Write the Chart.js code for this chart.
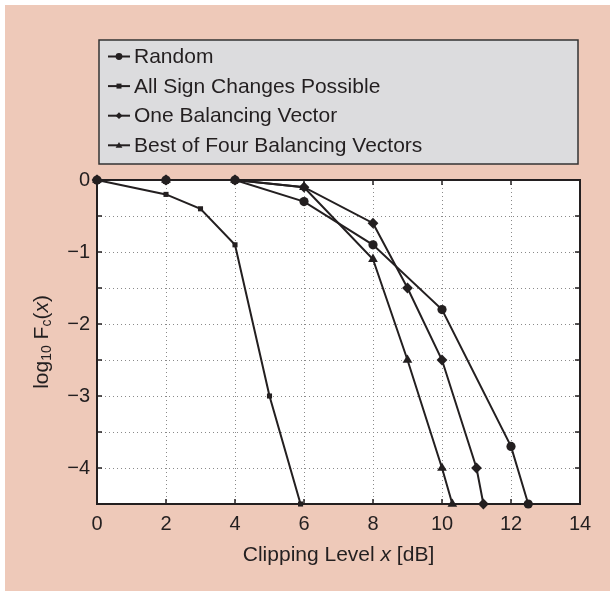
<!DOCTYPE html>
<html>
<head>
<meta charset="utf-8">
<script src="https://cdn.jsdelivr.net/npm/chart.js@4.4.1/dist/chart.umd.min.js"></script>
<style>
  html, body { margin: 0; padding: 0; background: #fff; }
  #wrap { width: 615px; height: 598px; }
</style>
</head>
<body>
<div id="wrap"><canvas id="clipChart" width="615" height="598"></canvas></div>
<script>
// clipping level (dB) and log10 of the clipping probability for each scheme
const seriesNames = ['Random', 'All Sign Changes Possible', 'One Balancing Vector', 'Best of Four Balancing Vectors'];
const xRandom = [0, 2, 4, 6, 8, 10, 12, 12.5];
const yRandom = [0, 0, 0, -0.3, -0.9, -1.8, -3.7, -4.5];
const xSign = [0, 2, 3, 4, 5, 5.9];
const ySign = [0, -0.2, -0.4, -0.9, -3, -4.5];
const xOne = [0, 2, 4, 6, 8, 9, 10, 11, 11.2];
const yOne = [0, 0, 0, -0.1, -0.6, -1.5, -2.5, -4, -4.5];
const xBest = [0, 2, 4, 6, 8, 9, 10, 10.3];
const yBest = [0, 0, 0, -0.1, -1.1, -2.5, -4, -4.5];
const xTicks = [0, 2, 4, 6, 8, 10, 12, 14];
const yTicks = [0, -1, -2, -3, -4];

const INK = '#231f20';
const FONT = '"Liberation Sans", Arial, Helvetica, sans-serif';

const toPoints = (xs, ys) => xs.map((x, i) => ({ x: x, y: ys[i] }));

const markerStyles = [
    { style: 'circle', radius: 4.6 },
    { style: 'rect', radius: 3.6 },
    { style: 'rectRot', radius: 5.4 },
    { style: 'triangle', radius: 5.6 }
];

const makeSet = (i, xs, ys) => ({
    label: seriesNames[i],
    data: toPoints(xs, ys),
    showLine: true,
    borderColor: INK,
    backgroundColor: INK,
    borderWidth: 2,
    pointStyle: markerStyles[i].style,
    pointRadius: markerStyles[i].radius,
    pointBorderWidth: 0,
    pointBackgroundColor: INK,
    clip: false
});

// small marker for the legend box
function drawMarker(ctx, style, x, y, r) {
    ctx.beginPath();
    if (style === 'circle') {
        ctx.arc(x, y, r, 0, Math.PI * 2);
    } else if (style === 'rect') {
        ctx.rect(x - r, y - r, 2 * r, 2 * r);
    } else if (style === 'rectRot') {
        ctx.moveTo(x, y - r); ctx.lineTo(x + r, y); ctx.lineTo(x, y + r); ctx.lineTo(x - r, y);
        ctx.closePath();
    } else {
        ctx.moveTo(x, y - r); ctx.lineTo(x + r, y + r * 0.7); ctx.lineTo(x - r, y + r * 0.7);
        ctx.closePath();
    }
    ctx.fill();
}

// draws a list of text runs ({t, size, dy, italic}) starting at x
function runsWidth(ctx, runs) {
    let w = 0;
    runs.forEach(r => {
        ctx.font = (r.italic ? 'italic ' : '') + r.size + 'px ' + FONT;
        w += ctx.measureText(r.t).width;
    });
    return w;
}
function drawRuns(ctx, runs, x, y) {
    runs.forEach(r => {
        ctx.font = (r.italic ? 'italic ' : '') + r.size + 'px ' + FONT;
        ctx.fillText(r.t, x, y + (r.dy || 0));
        x += ctx.measureText(r.t).width;
    });
}

const framePlugin = {
    id: 'frame',
    beforeDraw(chart) {
        const ctx = chart.ctx;
        const a = chart.chartArea;
        ctx.save();
        ctx.fillStyle = '#eec9b9';
        ctx.fillRect(5, 5, 605, 586);
        ctx.fillStyle = '#ffffff';
        ctx.fillRect(a.left, a.top, a.right - a.left, a.bottom - a.top);
        ctx.restore();
    },
    beforeDatasetsDraw(chart) {
        const ctx = chart.ctx;
        const a = chart.chartArea;
        const xs = chart.scales.x;
        const ys = chart.scales.y;
        ctx.save();
        ctx.strokeStyle = INK;
        ctx.lineWidth = 1.5;
        // inward tick marks on all four sides
        ctx.beginPath();
        for (let v = 2; v < 14; v += 2) {
            const px = xs.getPixelForValue(v);
            ctx.moveTo(px, a.bottom); ctx.lineTo(px, a.bottom - 5);
            ctx.moveTo(px, a.top); ctx.lineTo(px, a.top + 5);
        }
        for (let v = -4; v < 0; v += 0.5) {
            const py = ys.getPixelForValue(v);
            ctx.moveTo(a.left, py); ctx.lineTo(a.left + 5, py);
            ctx.moveTo(a.right, py); ctx.lineTo(a.right - 5, py);
        }
        ctx.stroke();
        ctx.lineWidth = 2;
        ctx.strokeRect(a.left, a.top, a.right - a.left, a.bottom - a.top);
        ctx.restore();
    },
    afterDraw(chart) {
        const ctx = chart.ctx;
        const a = chart.chartArea;
        ctx.save();
        ctx.fillStyle = INK;
        ctx.textBaseline = 'middle';

        // x axis title
        const xRuns = [
            { t: 'Clipping Level ', size: 21 },
            { t: 'x', size: 21, italic: true },
            { t: ' [dB]', size: 21 }
        ];
        const xw = runsWidth(ctx, xRuns);
        drawRuns(ctx, xRuns, (a.left + a.right) / 2 - xw / 2, 555);

        // y axis title, rotated
        const yRuns = [
            { t: 'log', size: 21 },
            { t: '10', size: 14, dy: 5 },
            { t: ' F', size: 21 },
            { t: 'c', size: 14, dy: 5 },
            { t: '(', size: 21 },
            { t: 'x', size: 21, italic: true },
            { t: ')', size: 21 }
        ];
        ctx.translate(42, (a.top + a.bottom) / 2);
        ctx.rotate(-Math.PI / 2);
        const yw = runsWidth(ctx, yRuns);
        drawRuns(ctx, yRuns, -yw / 2, 0);
        ctx.restore();

        // legend box
        ctx.save();
        ctx.fillStyle = '#dcdcde';
        ctx.fillRect(99, 40, 479, 124);
        ctx.strokeStyle = '#333333';
        ctx.lineWidth = 1.5;
        ctx.strokeRect(99, 40, 479, 124);
        ctx.font = '21px ' + FONT;
        ctx.textBaseline = 'middle';
        chart.data.datasets.forEach((ds, i) => {
            const y = 56.5 + i * 29.6;
            ctx.strokeStyle = INK;
            ctx.lineWidth = 2;
            ctx.beginPath();
            ctx.moveTo(108, y); ctx.lineTo(130, y);
            ctx.stroke();
            ctx.fillStyle = INK;
            const m = markerStyles[i];
            drawMarker(ctx, m.style, 119, y, m.style === 'rect' ? 2.5 : 3.4);
            ctx.fillText(ds.label, 134, y + 1);
        });
        ctx.restore();
    }
};

new Chart(document.getElementById('clipChart'), {
    type: 'scatter',
    data: {
        datasets: [
            makeSet(0, xRandom, yRandom),
            makeSet(1, xSign, ySign),
            makeSet(2, xOne, yOne),
            makeSet(3, xBest, yBest)
        ]
    },
    options: {
        responsive: false,
        animation: false,
        devicePixelRatio: 1,
        layout: { padding: { top: 180, right: 35, left: 0, bottom: 0 } },
        plugins: {
            legend: { display: false },
            tooltip: { enabled: false }
        },
        scales: {
            x: {
                type: 'linear',
                min: 0,
                max: 14,
                afterFit: scale => { scale.height = 94; },
                afterBuildTicks: scale => { scale.ticks = xTicks.map(v => ({ value: v })); },
                ticks: {
                    color: INK,
                    font: { family: FONT, size: 20 },
                    padding: 8,
                    callback: v => String(v)
                },
                grid: { color: '#8a8a8a', lineWidth: 1, drawTicks: false },
                border: { display: false, dash: [1, 3] }
            },
            y: {
                type: 'linear',
                min: -4.5,
                max: 0,
                afterFit: scale => { scale.width = 97; },
                ticks: {
                    stepSize: 0.5,
                    color: INK,
                    font: { family: FONT, size: 20 },
                    padding: 7,
                    callback: v => yTicks.includes(v) ? (v === 0 ? '0' : '\u2212' + Math.abs(v)) : ''
                },
                grid: { color: '#8a8a8a', lineWidth: 1, drawTicks: false },
                border: { display: false, dash: [1, 3] }
            }
        }
    },
    plugins: [framePlugin]
});
</script>
</body>
</html>
